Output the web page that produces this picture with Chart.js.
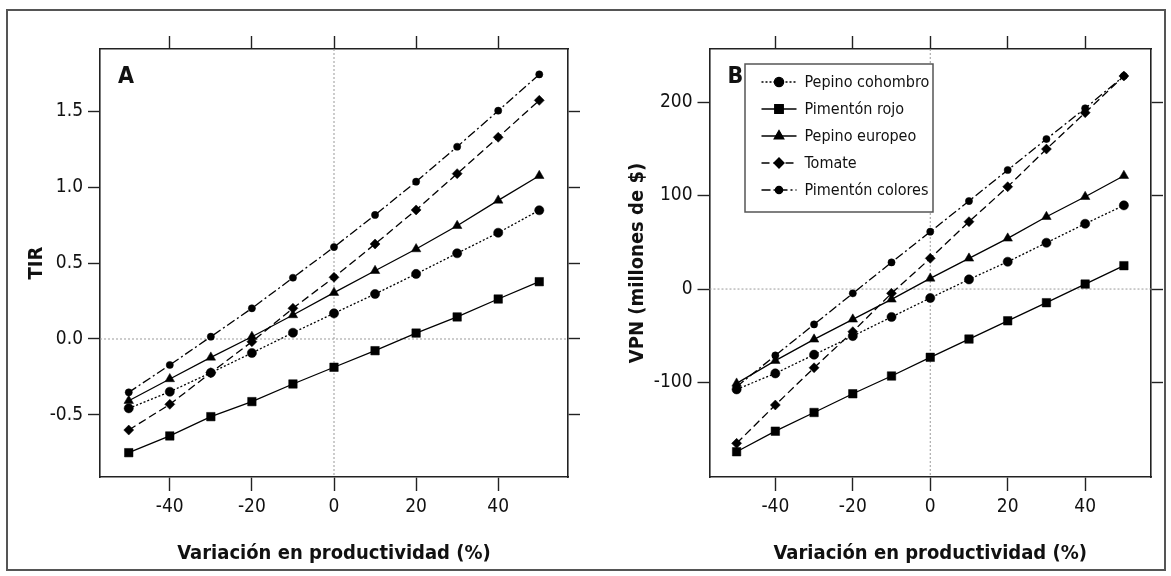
<!DOCTYPE html>
<html><head><meta charset="utf-8">
<script src="https://cdn.jsdelivr.net/npm/chart.js@4.4.1/dist/chart.umd.min.js"></script>
<style>
html,body{margin:0;padding:0;background:#fff;}
#wrap{position:relative;width:1171px;height:576px;overflow:hidden;background:#fff;}
#frame{position:absolute;left:6px;top:9px;width:1160px;height:562px;border:2px solid #555;box-sizing:border-box;}
#ca{position:absolute;left:0;top:0;width:585px;height:576px;}
#cb{position:absolute;left:585px;top:0;width:586px;height:576px;}
</style></head><body>
<div id="wrap"><div id="frame"></div>
<div id="ca"><canvas id="chartA"></canvas></div>
<div id="cb"><canvas id="chartB"></canvas></div></div>
<script>
// ---- data ----
const variacion = [-50,-40,-30,-20,-10,0,10,20,30,40,50];
const seriesNames = ['Pepino cohombro','Pimentón rojo','Pepino europeo','Tomate','Pimentón colores'];

const tirCohombro = [-0.456,-0.347,-0.222,-0.092,0.041,0.169,0.296,0.428,0.564,0.699,0.847];
const tirRojo     = [-0.748,-0.638,-0.511,-0.412,-0.296,-0.186,-0.077,0.039,0.145,0.263,0.377];
const tirEuropeo  = [-0.406,-0.263,-0.121,0.015,0.158,0.305,0.449,0.592,0.745,0.912,1.074];
const tirTomate   = [-0.599,-0.430,-0.222,-0.018,0.202,0.406,0.625,0.849,1.088,1.327,1.570];
const tirColores  = [-0.351,-0.171,0.015,0.202,0.403,0.605,0.816,1.035,1.265,1.502,1.741];

const vpnCohombro = [-107.3,-90.2,-70.2,-50.3,-29.9,-9.6,10.3,29.2,49.5,69.8,89.5];
const vpnRojo     = [-174,-152,-132,-112,-93,-73,-53.5,-34,-14.6,5.3,25];
const vpnEuropeo  = [-100.9,-76.6,-53.8,-32.4,-11,11.4,32.8,54.2,77.3,98.7,121.2];
const vpnTomate   = [-165,-124,-84.2,-45.6,-4.6,32.8,72,109.4,149.7,188.6,227.8];
const vpnColores  = [-104.5,-71,-37.8,-4.6,28.5,61.3,94.1,127.3,160.4,193.3,227.8];

const xTicks = [-40,-20,0,20,40];
const tirTicks = [-0.5,0,0.5,1.0,1.5];
const vpnTicks = [-100,0,100,200];

// ---- styles ----
const FAMILY = "'Liberation Sans Narrow','Arial Narrow','DejaVu Sans Condensed',sans-serif";
const INK = '#111';
const styles = [
  {dash:[2,2], point:'circle', r:4.6},
  {dash:[], point:'rect', r:6},
  {dash:[], point:'triangle', r:5.5},
  {dash:[8,4], point:'rectRot', r:5},
  {dash:[9,3,2,3], point:'circle', r:3.6}
];

function makeDatasets(arrs){
  return arrs.map((a,i)=>({
    label: seriesNames[i],
    data: variacion.map((x,j)=>({x:x,y:a[j]})),
    borderColor:'#000', backgroundColor:'#000',
    pointBackgroundColor:'#000', pointBorderColor:'#000',
    borderWidth:1.3, borderDash:styles[i].dash,
    pointStyle:styles[i].point, pointRadius:styles[i].r, pointBorderWidth:0.5,
    tension:0, fill:false
  }));
}

function makeScales(cfg){
  const border = {display:true,color:'#222',width:1.6};
  const grid = {display:true,drawOnChartArea:false,drawTicks:true,tickLength:13,tickColor:'#222',tickWidth:1.4};
  const setTicks = vals => s => { s.ticks = vals.map(v=>({value:v})); };
  return {
    x:{type:'linear',position:'bottom',min:cfg.xr[0],max:cfg.xr[1],border,grid:{...grid,tickLength:14},
       afterBuildTicks:setTicks(xTicks),
       ticks:{font:{family:FAMILY,size:19},color:INK,padding:5,maxRotation:0,autoSkip:false,callback:v=>String(v)},
       title:{display:true,text:'Variación en productividad (%)',font:{family:FAMILY,size:20,weight:'bold'},color:INK,padding:{top:0,bottom:10}},
       afterFit:s=>{s.height=99;}},
    x2:{type:'linear',position:'top',min:cfg.xr[0],max:cfg.xr[1],border,grid,
       afterBuildTicks:setTicks(xTicks),ticks:{display:false},afterFit:s=>{s.height=49;}},
    y:{type:'linear',position:'left',min:cfg.yr[0],max:cfg.yr[1],border,grid:{...grid,tickLength:12},
       afterBuildTicks:setTicks(cfg.yt),
       ticks:{font:{family:FAMILY,size:19},color:INK,padding:5,autoSkip:false,callback:cfg.fmt},
       title:{display:true,text:cfg.title,font:{family:FAMILY,size:20,weight:'bold'},color:INK,padding:{top:cfg.titlePad,bottom:0}},
       afterFit:s=>{s.width=cfg.leftW;}},
    y2:{type:'linear',position:'right',min:cfg.yr[0],max:cfg.yr[1],border,grid:{...grid,tickLength:12},
       afterBuildTicks:setTicks(cfg.yt),ticks:{display:false},afterFit:s=>{s.width=cfg.rightW;}}
  };
}

const zeroLines = {
  id:'zeroLines',
  beforeDatasetsDraw(chart){
    const {ctx,chartArea:a,scales} = chart;
    const x0 = scales.x.getPixelForValue(0), y0 = scales.y.getPixelForValue(0);
    ctx.save();
    ctx.strokeStyle='#9a9a9a'; ctx.lineWidth=1; ctx.setLineDash([2,2]);
    ctx.beginPath(); ctx.moveTo(x0,a.top); ctx.lineTo(x0,a.bottom); ctx.stroke();
    ctx.beginPath(); ctx.moveTo(a.left,y0); ctx.lineTo(a.right,y0); ctx.stroke();
    ctx.restore();
  }
};

function panelLetter(letter){
  return {
    id:'panelLetter'+letter,
    afterDraw(chart){
      const {ctx,chartArea:a} = chart;
      ctx.save();
      ctx.font = 'bold 23px '+FAMILY; ctx.fillStyle=INK;
      ctx.textBaseline='alphabetic'; ctx.textAlign='left';
      ctx.fillText(letter, a.left+18, a.top+34);
      ctx.restore();
    }
  };
}

const boxLegend = {
  id:'boxLegend',
  afterDraw(chart){
    const {ctx,chartArea:a} = chart;
    const bx=a.left+35.5, by=a.top+15, bw=188, bh=148;
    ctx.save();
    ctx.fillStyle='#fff'; ctx.fillRect(bx,by,bw,bh);
    ctx.strokeStyle='#555'; ctx.lineWidth=1.5; ctx.strokeRect(bx,by,bw,bh);
    chart.data.datasets.forEach((ds,i)=>{
      const y = a.top+33+i*27;
      const x1=a.left+52, x2=a.left+87, xm=(x1+x2)/2;
      ctx.strokeStyle='#000'; ctx.lineWidth=1.3; ctx.setLineDash(ds.borderDash||[]);
      ctx.beginPath(); ctx.moveTo(x1,y); ctx.lineTo(x2,y); ctx.stroke();
      ctx.setLineDash([]);
      Chart.helpers.drawPoint(ctx,{pointStyle:ds.pointStyle,radius:ds.pointRadius,borderWidth:0.5},xm,y);
      ctx.fillStyle='#000'; ctx.fill();
      ctx.fillStyle=INK; ctx.font='16px '+FAMILY; ctx.textBaseline='middle'; ctx.textAlign='left';
      ctx.fillText(ds.label, a.left+95, y+1);
    });
    ctx.restore();
  }
};

const baseOpts = {
  responsive:true, maintainAspectRatio:false, animation:false,
  layout:{padding:0},
  plugins:{legend:{display:false},tooltip:{enabled:false}},
  elements:{line:{borderCapStyle:'butt'}}
};

new Chart(document.getElementById('chartA'),{
  type:'line',
  data:{datasets:makeDatasets([tirCohombro,tirRojo,tirEuropeo,tirTomate,tirColores])},
  options:{...baseOpts, scales:makeScales({xr:[-57,57],yr:[-0.908,1.908],yt:tirTicks,fmt:v=>v.toFixed(1),title:'TIR',titlePad:25,leftW:100,rightW:17})},
  plugins:[zeroLines,panelLetter('A')]
});

new Chart(document.getElementById('chartB'),{
  type:'line',
  data:{datasets:makeDatasets([vpnCohombro,vpnRojo,vpnEuropeo,vpnTomate,vpnColores])},
  options:{...baseOpts, scales:makeScales({xr:[-57,57],yr:[-201,256.7],yt:vpnTicks,fmt:v=>String(v),title:'VPN (millones de $)',titlePad:41,leftW:124.5,rightW:20})},
  plugins:[zeroLines,panelLetter('B'),boxLegend]
});
</script>
</body></html>
